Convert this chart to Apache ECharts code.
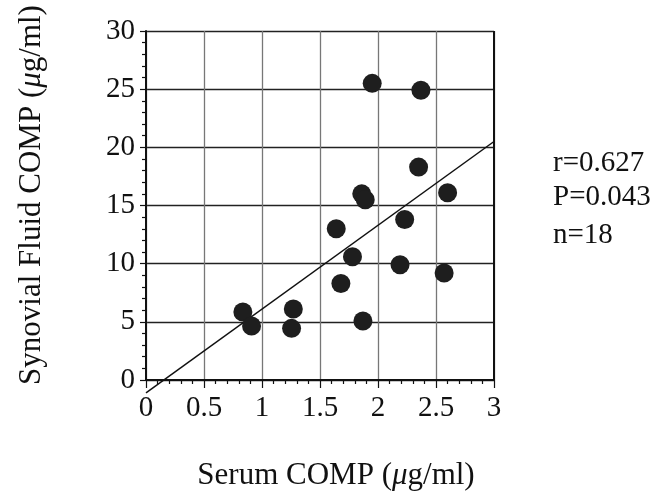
<!DOCTYPE html>
<html><head><meta charset="utf-8">
<script src="https://cdn.jsdelivr.net/npm/echarts@6/dist/echarts.min.js"></script>
<style>html,body{margin:0;padding:0;background:#fff}#c{width:671px;height:494px}</style>
</head><body><div id="c"></div>
<script>
const serumX = [1.95, 2.37, 2.35, 2.60, 1.86, 1.89, 2.23, 1.64, 1.78, 2.19, 2.57, 1.68, 1.27, 0.835, 0.91, 1.255, 1.87];
const synovialY = [25.5, 24.9, 18.3, 16.1, 16.0, 15.5, 13.8, 13.0, 10.6, 9.9, 9.2, 8.3, 6.1, 5.85, 4.64, 4.44, 5.07];
const fitX = [0, 3];
const fitY = [-1.1, 20.5];
const statsText = ['r=0.627', 'P=0.043', 'n=18'];
const xTitle = 'Serum COMP ({i|μ}g/ml)';
const yTitle = 'Synovial Fluid COMP ({i|μ}g/ml)';
const FONT = '"Liberation Serif", "DejaVu Serif", serif';
const TICK = 29, TITLE = 31;
const rich = {i: {fontFamily: FONT, fontSize: TITLE, fontStyle: 'italic', fill: '#111'}};

const chart = echarts.init(document.getElementById('c'), null, {renderer: 'canvas'});
chart.setOption({
  animation: false,
  backgroundColor: '#fff',
  grid: {left: 146, top: 31, width: 348, height: 349, show: false},
  xAxis: {
    type: 'value', min: 0, max: 3, interval: 0.5,
    axisLine: {show: true, lineStyle: {color: '#111', width: 2}},
    axisTick: {show: true, length: 8, inside: false, lineStyle: {color: '#111', width: 1.2}},
    minorTick: {show: true, splitNumber: 5, length: 4, lineStyle: {color: '#111', width: 1.2}},
    axisLabel: {fontFamily: FONT, fontSize: TICK, color: '#111', margin: 14, formatter: v => String(v)},
    splitLine: {show: true, lineStyle: {color: '#777', width: 1.3}}
  },
  yAxis: {
    type: 'value', min: 0, max: 30, interval: 5,
    axisLine: {show: true, lineStyle: {color: '#111', width: 2}},
    axisTick: {show: true, length: 6, lineStyle: {color: '#111', width: 1.2}},
    minorTick: {show: true, splitNumber: 5, length: 4, lineStyle: {color: '#111', width: 1.2}},
    axisLabel: {fontFamily: FONT, fontSize: TICK, color: '#111', margin: 11},
    splitLine: {show: true, lineStyle: {color: '#222', width: 1.3}}
  },
  graphic: [
    {type: 'line', shape: {x1: 494, y1: 31, x2: 494, y2: 380}, style: {stroke: '#111', lineWidth: 2}, z: 1},
    {type: 'text', x: 336, y: 476, style: {text: xTitle, font: TITLE + 'px ' + FONT, fill: '#111', align: 'center', verticalAlign: 'middle', rich: rich}},
    {type: 'text', x: 32, y: 195, rotation: Math.PI / 2, style: {text: yTitle, font: TITLE + 'px ' + FONT, fill: '#111', align: 'center', verticalAlign: 'middle', rich: rich}},
    {type: 'text', x: 553, y: 149, style: {text: statsText[0], font: TICK + 'px ' + FONT, fill: '#111'}},
    {type: 'text', x: 553, y: 183, style: {text: statsText[1], font: TICK + 'px ' + FONT, fill: '#111'}},
    {type: 'text', x: 553, y: 221, style: {text: statsText[2], font: TICK + 'px ' + FONT, fill: '#111'}}
  ],
  series: [
    {type: 'line', data: fitX.map((x, i) => [x, fitY[i]]), clip: false, symbol: 'none',
      lineStyle: {color: '#111', width: 1.5}, z: 3},
    {type: 'scatter', data: serumX.map((x, i) => [x, synovialY[i]]), symbolSize: 19,
      itemStyle: {color: '#1e1e1e', opacity: 1}, z: 4}
  ]
});
</script></body></html>
